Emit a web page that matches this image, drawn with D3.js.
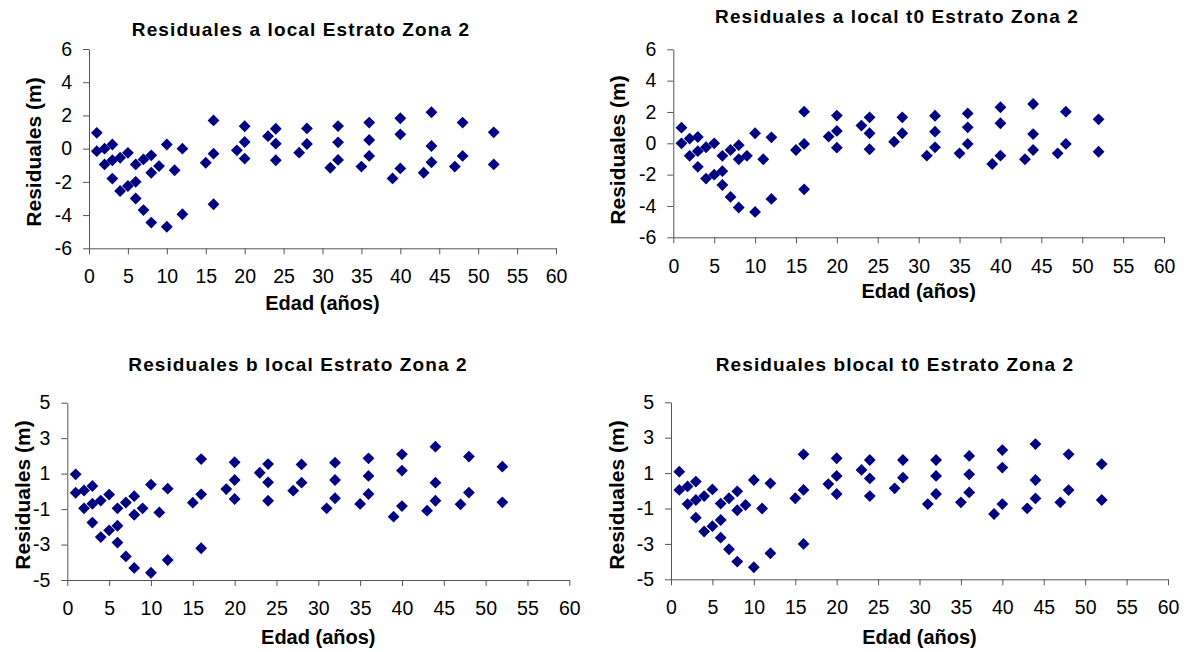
<!DOCTYPE html>
<html>
<head>
<meta charset="utf-8">
<script src="https://cdn.jsdelivr.net/npm/d3@7"></script>
<style>
  body { margin: 0; background: #fff; }
  svg { display: block; font-family: "Liberation Sans", Arial, sans-serif; }
</style>
</head>
<body>
<svg id="chart" width="1187" height="652"></svg>
<script>
// Residuals vs age, four fitted models

const ages = [1, 1, 2, 2, 3, 3, 3, 4, 4, 5, 5, 6, 6, 6, 7, 7, 8, 8, 8, 9, 10, 10, 11, 12, 12,
  15, 16, 16, 16, 19, 20, 20, 20, 23, 24, 24, 24, 27, 28, 28, 31, 32, 32, 32, 35, 36, 36, 36,
  39, 40, 40, 40, 43, 44, 44, 44, 47, 48, 48, 52, 52];

const residALocal = [0.95, -0.15, 0.0, -0.95, 0.25, -0.7, -1.8, -0.55, -2.55, -0.25, -2.25,
  -0.95, -2.0, -3.0, -0.65, -3.7, -0.4, -1.45, -4.45, -1.05, 0.25, -4.7, -1.3, 0.0, -3.95,
  -0.85, 1.7, -0.3, -3.35, -0.1, 1.35, 0.4, -0.6, 0.75, 1.2, 0.3, -0.7, -0.24, 1.22, 0.28,
  -1.15, 1.36, 0.38, -0.68, -1.08, 1.57, 0.52, -0.44, -1.79, 1.83, 0.86, -1.19, -1.45, 2.19,
  0.16, -0.82, -1.08, 1.57, -0.44, 0.98, -0.95];

const residALocalT0 = [1.0, 0.0, 0.3, -0.8, 0.4, -0.5, -1.5, -0.25, -2.25, 0.0, -2.0,
  -0.8, -1.78, -2.66, -0.43, -3.42, -0.12, -1.02, -4.1, -0.8, 0.64, -4.38, -1.02, 0.38, -3.55,
  -0.43, 2.02, -0.04, -2.94, 0.43, 1.77, 0.79, -0.28, 1.13, 1.66, 0.64, -0.38, 0.1, 1.66, 0.64,
  -0.79, 1.76, 0.74, -0.26, -0.64, 1.91, 1.02, -0.04, -1.32, 2.3, 1.28, -0.79, -1.02, 2.51,
  0.59, -0.43, -0.64, 2.02, -0.04, 1.53, -0.54];

const residBLocal = [0.96, -0.08, 0.05, -0.96, 0.3, -0.7, -1.76, -0.52, -2.58, -0.18, -2.2,
  -0.96, -1.94, -2.89, -0.63, -3.67, -0.27, -1.32, -4.32, -0.96, 0.38, -4.59, -1.19, 0.15, -3.87,
  -0.64, 1.82, -0.17, -3.21, 0.13, 1.64, 0.64, -0.43, 1.05, 1.54, 0.51, -0.53, 0.04, 1.52, 0.49,
  -0.96, 1.62, 0.64, -0.39, -0.71, 1.86, 0.87, -0.15, -1.43, 2.09, 1.17, -0.83, -1.09, 2.52,
  0.49, -0.53, -0.73, 1.96, -0.07, 1.39, -0.62];

const residBLocalT0 = [1.08, 0.05, 0.25, -0.75, 0.52, -0.52, -1.52, -0.3, -2.3, 0.08, -2.0,
  -0.72, -1.65, -2.65, -0.42, -3.3, -0.03, -1.1, -4.0, -0.8, 0.61, -4.32, -1.0, 0.42, -3.53,
  -0.42, 2.06, 0.05, -3.0, 0.38, 1.84, 0.84, -0.18, 1.18, 1.74, 0.7, -0.3, 0.14, 1.74, 0.74,
  -0.75, 1.74, 0.84, -0.18, -0.65, 1.97, 0.93, -0.09, -1.31, 2.3, 1.31, -0.75, -0.99, 2.64,
  0.61, -0.43, -0.65, 2.06, 0.04, 1.51, -0.52];

const titles = [
  'Residuales a local Estrato Zona 2',
  'Residuales a local t0 Estrato Zona 2',
  'Residuales b local Estrato Zona 2',
  'Residuales blocal t0 Estrato Zona 2'
];
const yTicksA = [-6, -4, -2, 0, 2, 4, 6];
const yTicksB = [-5, -3, -1, 1, 3, 5];
const xTicks = [0, 5, 10, 15, 20, 25, 30, 35, 40, 45, 50, 55, 60];
const xLabel = 'Edad (años)';
const yLabel = 'Residuales (m)';

// layout of each panel (plot box, title and label anchors)
const panels = [
  { values: residALocal, yTicks: yTicksA, left: 89, right: 556, top: 49, bottom: 248.3,
    titleX: 301, titleY: 36, xlabY: 310, ylabX: 41, ylabY: 152, pad: 15 },
  { values: residALocalT0, yTicks: yTicksA, left: 673.3, right: 1164, top: 49.3, bottom: 237.3,
    titleX: 897, titleY: 23, xlabY: 298, ylabX: 625, ylabY: 150, pad: 16 },
  { values: residBLocal, yTicks: yTicksB, left: 67.3, right: 569.3, top: 402.7, bottom: 580,
    titleX: 298, titleY: 371, xlabY: 644, ylabX: 30, ylabY: 495, pad: 15 },
  { values: residBLocalT0, yTicks: yTicksB, left: 671, right: 1168, top: 402.3, bottom: 579.3,
    titleX: 895, titleY: 371, xlabY: 644, ylabX: 624, ylabY: 495, pad: 15 }
];

const svg = d3.select('#chart');
const diamond = d3.symbol().type(d3.symbolSquare).size(70);

panels.forEach((p, i) => {
  const g = svg.append('g');
  const yExt = d3.extent(p.yTicks);

  const x = d3.scaleLinear().domain([0, 60]).range([p.left, p.right]);
  const y = d3.scaleLinear().domain(yExt).range([p.bottom, p.top]);

  const xAxis = g.append('g')
    .attr('transform', `translate(0,${p.bottom})`)
    .call(d3.axisBottom(x).tickValues(xTicks).tickFormat(d => String(d))
      .tickSize(6).tickPadding(p.pad).tickSizeOuter(0));

  const yAxis = g.append('g')
    .attr('transform', `translate(${p.left},0)`)
    .call(d3.axisLeft(y).tickValues(p.yTicks).tickFormat(d => String(d))
      .tickSize(6).tickPadding(11).tickSizeOuter(0));

  [xAxis, yAxis].forEach(a => {
    a.selectAll('path, line').attr('stroke', '#555').attr('stroke-width', 1);
    a.selectAll('text').attr('fill', '#000').style('font-size', '19.5px');
  });

  g.append('g')
    .selectAll('path')
    .data(ages.map((a, k) => [a, p.values[k]]))
    .join('path')
      .attr('d', diamond)
      .attr('fill', '#000080')
      .attr('transform', d => `translate(${x(d[0])},${y(d[1])}) rotate(45)`);

  g.append('text')
    .attr('x', p.titleX)
    .attr('y', p.titleY)
    .attr('text-anchor', 'middle')
    .style('font-size', '19px')
    .style('font-weight', 'bold')
    .style('letter-spacing', '1.1px')
    .text(titles[i]);

  g.append('text')
    .attr('x', (p.left + p.right) / 2)
    .attr('y', p.xlabY)
    .attr('text-anchor', 'middle')
    .style('font-size', '20px')
    .style('font-weight', 'bold')
    .text(xLabel);

  g.append('text')
    .attr('transform', `translate(${p.ylabX},${p.ylabY}) rotate(-90)`)
    .attr('text-anchor', 'middle')
    .style('font-size', '21px')
    .style('font-weight', 'bold')
    .text(yLabel);
});
</script>
</body>
</html>
